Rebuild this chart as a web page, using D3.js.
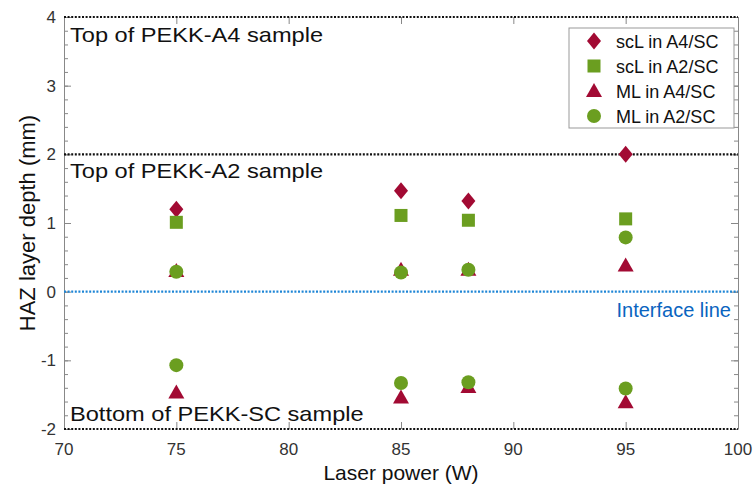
<html>
<head>
    <title>HAZ layer depth</title>
</head>
<body style="margin: 0; background: #fff;">
    <svg></svg>
</body>
<script src="https://cdn.jsdelivr.net/npm/d3@7"></script>
<script>
const width = 753;
const height = 493;

const power = [75, 85, 88, 95];
const scL_A4 = [1.20, 1.47, 1.32, 2.00];
const scL_A2 = [1.01, 1.11, 1.04, 1.06];
const ML_A4_top = [0.30, 0.32, 0.32, 0.38];
const ML_A2_top = [0.29, 0.28, 0.32, 0.79];
const ML_A4_bot = [-1.47, -1.54, -1.39, -1.61];
const ML_A2_bot = [-1.07, -1.33, -1.32, -1.41];

const xTicks = [70, 75, 80, 85, 90, 95, 100];
const yTicks = [-2, -1, 0, 1, 2, 3, 4];

const red = "#a20a33";
const green = "#6b9e20";

const m = {left: 64, right: 738, top: 17, bottom: 429};
const x = d3.scaleLinear().domain([70, 100]).range([m.left, m.right]);
const y = d3.scaleLinear().domain([-2, 4]).range([m.bottom, m.top]);

const svg = d3.select("svg").attr("width", width).attr("height", height)
    .style("font-family", "Arial, 'Liberation Sans', sans-serif");

// frame: gray left/right axes with minor ticks
const gray = "#888";
const minor = d3.range(-2, 4.01, 0.2);
[[m.left, d3.axisRight], [m.right, d3.axisLeft]].forEach(([px, ax]) => {
    svg.append("g")
        .attr("transform", `translate(${px},0)`)
        .call(ax(y).tickValues(minor).tickSize(4).tickSizeOuter(0).tickFormat(""))
        .call(g => g.selectAll("line,path").attr("stroke", gray));
    svg.append("g")
        .attr("transform", `translate(${px},0)`)
        .call(ax(y).tickValues(yTicks).tickSize(7).tickFormat(""))
        .call(g => g.select("path").remove())
        .call(g => g.selectAll("line").attr("stroke", gray));
});

// x ticks top & bottom
[[m.bottom, d3.axisTop], [m.top, d3.axisBottom]].forEach(([py, ax]) => {
    svg.append("g")
        .attr("transform", `translate(0,${py})`)
        .call(ax(x).tickValues(xTicks).tickSize(7).tickFormat(""))
        .call(g => g.select("path").remove())
        .call(g => g.selectAll("line").attr("stroke", gray));
});

// tick labels
svg.append("g").selectAll("text").data(yTicks).join("text")
    .attr("x", m.left - 8).attr("y", d => y(d) + 6)
    .attr("text-anchor", "end").attr("font-size", 17).attr("fill", "#333")
    .text(d => d);
svg.append("g").selectAll("text").data(xTicks).join("text")
    .attr("x", d => x(d)).attr("y", m.bottom + 26)
    .attr("text-anchor", "middle").attr("font-size", 17).attr("fill", "#333")
    .text(d => d);

// axis titles
svg.append("text")
    .attr("x", x(85)).attr("y", 480)
    .attr("text-anchor", "middle").attr("font-size", 21).attr("fill", "#111")
    .text("Laser power (W)");
svg.append("text")
    .attr("transform", `translate(35,${y(1)}) rotate(-90)`)
    .attr("text-anchor", "middle").attr("font-size", 22).attr("fill", "#111")
    .text("HAZ layer depth (mm)");

// reference lines
const refLines = [
    {v: 4, c: "#111"}, {v: 2, c: "#111"}, {v: 0, c: "#1f86d6"}, {v: -2, c: "#111"}
];
svg.append("g").selectAll("line").data(refLines).join("line")
    .attr("x1", m.left).attr("x2", m.right)
    .attr("y1", d => y(d.v)).attr("y2", d => y(d.v))
    .attr("stroke", d => d.c).attr("stroke-width", 2.2)
    .attr("stroke-dasharray", "2,1.6");

// annotations
const notes = [
    {t: "Top of PEKK-A4 sample", x: m.left + 6, y: 42, a: "start", c: "#111", s: 1.18},
    {t: "Top of PEKK-A2 sample", x: m.left + 6, y: 178, a: "start", c: "#111", s: 1.18},
    {t: "Bottom of PEKK-SC sample", x: m.left + 6, y: 421, a: "start", c: "#111", s: 1.18},
    {t: "Interface line", x: m.right - 7, y: 317, a: "end", c: "#0a64c0", s: 1}
];
svg.append("g").selectAll("text").data(notes).join("text")
    .attr("transform", d => `translate(${d.x},${d.y}) scale(${d.s},1)`)
    .attr("text-anchor", d => d.a)
    .attr("font-size", 20).attr("fill", d => d.c).text(d => d.t);

// markers
const shapes = {
    diamond: g => g.append("path").attr("d", "M0,-8.5L7,0L0,8.5L-7,0Z"),
    square: g => g.append("rect").attr("x", -6.5).attr("y", -6.5).attr("width", 13).attr("height", 13),
    triangle: g => g.append("path").attr("d", "M0,-8L8,6L-8,6Z"),
    circle: g => g.append("circle").attr("r", 7)
};
const series = [
    {name: "scL in A4/SC", shape: "diamond", color: red, vals: [scL_A4]},
    {name: "scL in A2/SC", shape: "square", color: green, vals: [scL_A2]},
    {name: "ML in A4/SC", shape: "triangle", color: red, vals: [ML_A4_top, ML_A4_bot]},
    {name: "ML in A2/SC", shape: "circle", color: green, vals: [ML_A2_top, ML_A2_bot]}
];
series.forEach(s => {
    s.vals.forEach(arr => {
        arr.forEach((v, i) => {
            const g = svg.append("g")
                .attr("transform", `translate(${x(power[i])},${y(v)})`)
                .attr("fill", s.color);
            shapes[s.shape](g);
        });
    });
});

// legend
const lg = svg.append("g").attr("transform", "translate(569,28)");
lg.append("rect").attr("width", 165).attr("height", 100)
    .attr("fill", "#fff").attr("stroke", "#999").attr("stroke-width", 1);
series.forEach((s, i) => {
    const row = lg.append("g").attr("transform", `translate(25,${13 + i * 25})`);
    const g = row.append("g").attr("fill", s.color);
    shapes[s.shape](g);
    row.append("text").attr("x", 22).attr("y", 6.5).attr("font-size", 18)
        .attr("fill", "#111").text(s.name);
});
</script>
</html>
